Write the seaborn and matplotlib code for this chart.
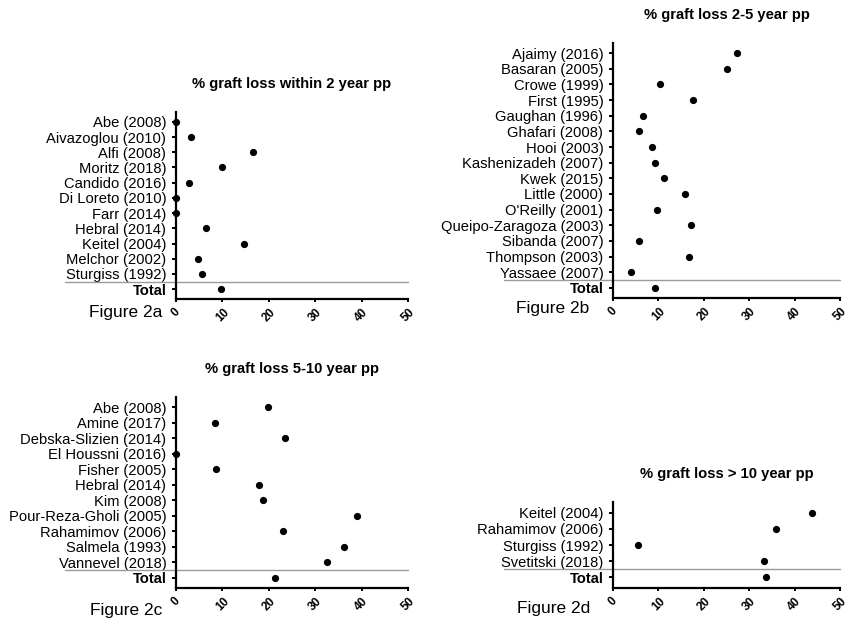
import matplotlib
matplotlib.use("Agg")
import matplotlib.pyplot as plt
import seaborn as sns
import pandas as pd

# ---- data -------------------------------------------------------------
studies_a = ["Abe (2008)", "Aivazoglou (2010)", "Alfi (2008)", "Moritz (2018)",
             "Candido (2016)", "Di Loreto (2010)", "Farr (2014)", "Hebral (2014)",
             "Keitel (2004)", "Melchor (2002)", "Sturgiss (1992)", "Total"]
loss_a = [0.0, 3.2, 16.6, 10.0, 2.7, 0.0, 0.0, 6.5, 14.6, 4.7, 5.5, 9.6]

studies_b = ["Ajaimy (2016)", "Basaran (2005)", "Crowe (1999)", "First (1995)",
             "Gaughan (1996)", "Ghafari (2008)", "Hooi (2003)", "Kashenizadeh (2007)",
             "Kwek (2015)", "Little (2000)", "O'Reilly (2001)",
             "Queipo-Zaragoza (2003)", "Sibanda (2007)", "Thompson (2003)",
             "Yassaee (2007)", "Total"]
loss_b = [27.4, 25.1, 10.3, 17.7, 6.7, 5.7, 8.7, 9.3, 11.2, 15.8, 9.8,
          17.2, 5.8, 16.7, 4.0, 9.2]

studies_c = ["Abe (2008)", "Amine (2017)", "Debska-Slizien (2014)", "El Houssni (2016)",
             "Fisher (2005)", "Hebral (2014)", "Kim (2008)", "Pour-Reza-Gholi (2005)",
             "Rahamimov (2006)", "Salmela (1993)", "Vannevel (2018)", "Total"]
loss_c = [19.9, 8.3, 23.4, 0.0, 8.6, 17.9, 18.8, 39.0, 23.1, 36.3, 32.6, 21.4]

studies_d = ["Keitel (2004)", "Rahamimov (2006)", "Sturgiss (1992)",
             "Svetitski (2018)", "Total"]
loss_d = [43.9, 35.9, 5.6, 33.3, 33.6]

titles = ["% graft loss within 2 year pp", "% graft loss 2-5 year pp",
          "% graft loss 5-10 year pp", "% graft loss > 10 year pp"]
fig_labels = ["Figure 2a", "Figure 2b", "Figure 2c", "Figure 2d"]
x_ticks = [0, 10, 20, 30, 40, 50]

# ---- style ------------------------------------------------------------
sns.set_theme(style="ticks")
plt.rcParams["font.family"] = ["Liberation Sans", "DejaVu Sans"]
plt.rcParams.update({
    "axes.linewidth": 1.6,
    "text.color": "black",
    "axes.labelcolor": "black",
    "xtick.color": "black",
    "ytick.color": "black",
    "axes.edgecolor": "black",
})

W, H = 850, 623
fig = plt.figure(figsize=(W / 100, H / 100), dpi=100)


def px_axes(left, top, right, bottom):
    return fig.add_axes([left / W, 1 - bottom / H, (right - left) / W, (bottom - top) / H])


panels = [
    (studies_a, loss_a, (176, 112, 408, 299), (162, 312)),
    (studies_b, loss_b, (613, 43, 840, 298), (589, 309)),
    (studies_c, loss_c, (176, 397, 408, 588), (162, 611)),
    (studies_d, loss_d, (613, 502, 840, 588), (590, 609)),
]

for (names, vals, box, lab_pos), title, flab in zip(panels, titles, fig_labels):
    ax = px_axes(*box)
    df = pd.DataFrame({"study": names, "loss": vals})
    sns.stripplot(data=df, x="loss", y="study", order=names, jitter=False,
                  color="black", size=5.2, ax=ax, linewidth=0)
    for coll in ax.collections:
        coll.set_clip_on(False)
    n = len(names)
    ax.set_xlim(0, 50)
    ax.set_ylim(n - 1 + 0.65, -0.65)
    ax.set_xticks(x_ticks)
    ax.set_xticklabels([str(t) for t in x_ticks], rotation=45, ha="center",
                       fontsize=8.5, fontweight="bold")
    ax.tick_params(axis="x", length=2.5, width=1.4, pad=2.5)
    ax.tick_params(axis="y", length=3, width=1.4, pad=4, labelsize=10.6)
    for lbl in ax.get_yticklabels():
        if lbl.get_text() == "Total":
            lbl.set_fontweight("bold")
    ax.set_xlabel("")
    ax.set_ylabel("")
    sns.despine(ax=ax)
    # separator between individual studies and the pooled total
    ax.axhline(n - 1.5, xmin=-0.48, xmax=1.0, color="#9a9a9a", lw=1.0, clip_on=False)
    ax.annotate(title, xy=(0.5, 1.0), xycoords="axes fraction",
                xytext=(0, 20), textcoords="offset points",
                ha="center", va="center", fontsize=10.6, fontweight="bold")
    fig.text(lab_pos[0] / W, 1 - lab_pos[1] / H, flab, ha="right", va="center",
             fontsize=12.5)

fig.savefig("out.png", dpi=100)
